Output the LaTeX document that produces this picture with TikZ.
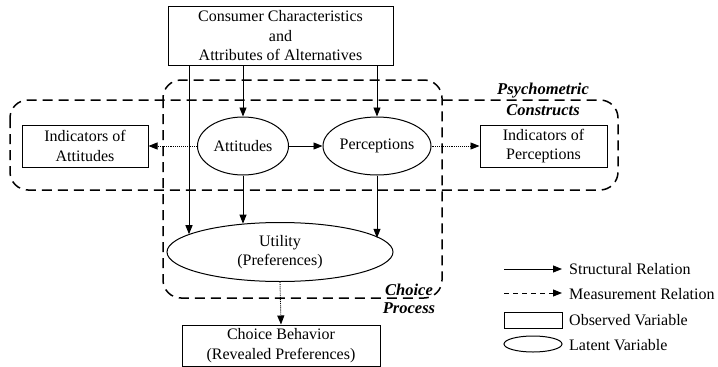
\documentclass[tikz,border=0pt]{standalone}
\usepackage{fontspec}
\setmainfont{Liberation Serif}
\usetikzlibrary{arrows.meta,shapes.geometric}
\begin{document}
\begin{tikzpicture}[x=1pt,y=-1pt,
  every node/.style={font=\fontsize{16}{19.5}\selectfont},
  obs/.style={draw,line width=1pt,rectangle,inner sep=0pt,align=center},
  lat/.style={draw,line width=1pt,ellipse,inner sep=0pt,align=center},
  tip/.style={-{Triangle[length=9pt,width=7pt]}},
  sarrow/.style={tip,line width=0.9pt},
  marrow/.style={tip,line width=0.9pt,densely dotted},
  grp/.style={line width=1.5pt,dash pattern=on 10pt off 6pt,rounded corners=18pt},
  lbl/.style={font=\fontsize{16.5}{21}\selectfont\bfseries\itshape,align=center,inner sep=0pt}
]
\useasboundingbox (0,0) rectangle (718,367);
% groups
\draw[grp] (163,80) rectangle (442,298);
\draw[grp] (10,100) rectangle (618,190);
\node[lbl] (pc) at (543,99) {Psychometric\\Constructs};
\node[lbl,font=\fontsize{16.5}{18.5}\selectfont\bfseries\itshape] (cp) at (409,299) {Choice\\Process};
% nodes
\node[obs,minimum width=225pt,minimum height=59pt] (top) at (280.5,36) {Consumer Characteristics\\and\\Attributes of Alternatives};
\node[lat,minimum width=91pt,minimum height=58pt] (att) at (243,146) {Attitudes};
\node[lat,minimum width=108pt,minimum height=58pt] (perc) at (377,146) {Perceptions};
\node[obs,minimum width=126pt,minimum height=42pt] (indA) at (85,146) {Indicators of\\Attitudes};
\node[obs,minimum width=127pt,minimum height=42pt] (indP) at (543.5,146) {Indicators of\\Perceptions};
\node[lat,minimum width=226pt,minimum height=59pt] (util) at (280,252) {Utility\\(Preferences)};
\node[obs,minimum width=198pt,minimum height=41pt] (cb) at (281,345.5) {Choice Behavior\\(Revealed Preferences)};
\coordinate (cx) at (189,0);
% connectors
\draw[sarrow] (top.south -| att) -- (att.north);
\draw[sarrow] (top.south -| perc) -- (perc.north);
\draw[sarrow] (top.south -| cx) -- (cx |- util.169.3);
\draw[sarrow] (att.south) -- (att.south |- util.143.5);
\draw[sarrow] (perc.south) -- (perc.south |- util.8.7);
\draw[sarrow] (att.east) -- (perc.west);
\draw[marrow] (att.west) -- (indA.east);
\draw[marrow] (perc.east) -- (indP.west);
\draw[marrow] (util.south) -- (cb.north);
% legend
\coordinate (l1a) at (504,269); \coordinate (l1b) at (562,269);
\coordinate (l2a) at (504,293); \coordinate (l2b) at (562,293);
\draw[sarrow] (l1a) -- (l1b);
\draw[tip,line width=0.9pt,dash pattern=on 5pt off 4pt] (l2a) -- (l2b);
\node[obs,minimum width=58pt,minimum height=16pt] (lobs) at (533,320) {};
\node[lat,minimum width=58pt,minimum height=16pt] (llat) at (533,344) {};
\node[anchor=west,inner sep=0pt] (t1) at (569,269) {Structural Relation};
\node[anchor=west,inner sep=0pt] (t2) at (569,294) {Measurement Relation};
\node[anchor=west,inner sep=0pt] (t3) at (569,320) {Observed Variable};
\node[anchor=west,inner sep=0pt] (t4) at (569,345) {Latent Variable};
\end{tikzpicture}
\end{document}
